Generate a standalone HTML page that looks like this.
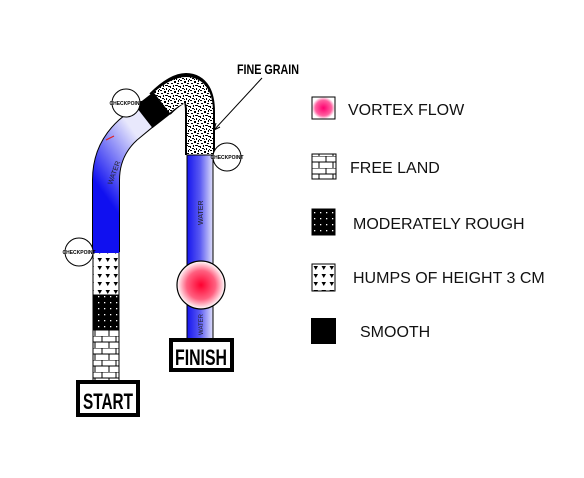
<!DOCTYPE html>
<html><head><meta charset="utf-8"><style>
html,body{margin:0;padding:0;background:#fff;}
svg{display:block;font-family:"Liberation Sans",sans-serif;}
</style></head><body>
<svg width="584" height="478" viewBox="0 0 584 478">
<defs>
<linearGradient id="wl" x1="0" y1="1" x2="0.4" y2="0"><stop offset="0.35" stop-color="#1010f0"/><stop offset="1" stop-color="#e8e8fc"/></linearGradient>
<linearGradient id="wr" x1="0" y1="0" x2="1" y2="0"><stop offset="0" stop-color="#1515ee"/><stop offset="0.5" stop-color="#5a5af2"/><stop offset="1" stop-color="#e0e0fa"/></linearGradient>
<radialGradient id="vx"><stop offset="0" stop-color="#ff0030"/><stop offset="0.6" stop-color="#ff6080"/><stop offset="1" stop-color="#fff"/></radialGradient>
<radialGradient id="vx2"><stop offset="0" stop-color="#ff0070"/><stop offset="0.7" stop-color="#ff60a0"/><stop offset="1" stop-color="#fff"/></radialGradient>
<pattern id="brick" width="14" height="12" patternUnits="userSpaceOnUse"><rect width="14" height="12" fill="#fff"/><path d="M0 0H14M0 6H14M4 0V6M11 6V12" stroke="#000" stroke-width="1"/></pattern>
<pattern id="rough" width="6" height="6" patternUnits="userSpaceOnUse"><rect width="6" height="6" fill="#000"/><rect x="2" y="2" width="1.3" height="1.3" fill="#fff"/></pattern>
<pattern id="humps" width="8" height="8" patternUnits="userSpaceOnUse"><rect width="8" height="8" fill="#fff"/><path d="M1.5 2L6 2L3.75 6Z" fill="#000"/></pattern>
<pattern id="grain" width="10" height="10" patternUnits="userSpaceOnUse"><rect width="10" height="10" fill="#fff"/><path d="M0 0h2v1H0zM4 1h2v2H4zM8 0h1v2H8zM1 3h2v1H1zM7 3h2v1H7zM3 5h1v2H3zM5 5h3v1H5zM0 6h1v2H0zM8 6h2v1H8zM2 8h2v1H2zM6 8h1v2H6zM9 9h1v1H9zM4 9h1v1H4z" fill="#000"/></pattern>
</defs>

<rect x="93" y="252" width="26" height="43" fill="url(#humps)" stroke="#000"/>
<rect x="93" y="295" width="26" height="35" fill="url(#rough)" stroke="#000"/>
<rect x="93" y="330" width="26" height="52" fill="url(#brick)" stroke="#000"/>

<path d="M106 252 L106 180 Q106 150 128 130 L145 116" fill="none" stroke="#000" stroke-width="28"/>
<path d="M106 253 L106 180 Q106 150 128 130 L146 115" fill="none" stroke="url(#wl)" stroke-width="26"/>
<text x="0" y="0" font-size="7" fill="#222" transform="translate(112,185) rotate(-70)">WATER</text>
<path d="M106 140 L114 136" stroke="#e02020" stroke-width="1.2"/>

<path d="M160 104 Q176 88 186 88 Q200 88 200 112 L200 155" fill="none" stroke="#000" stroke-width="30"/>
<path d="M160 104 Q176 90 186 90 Q200 90 200 112 L200 156" fill="none" stroke="url(#grain)" stroke-width="26"/>
<path d="M144 117 L162 103" fill="none" stroke="#000" stroke-width="28"/>

<rect x="187" y="155" width="26" height="185" fill="url(#wr)" stroke="#000"/>
<text font-size="7" fill="#222" transform="translate(203,225) rotate(-90)">WATER</text>
<text font-size="6" fill="#222" transform="translate(203,335) rotate(-90)">WATER</text>
<circle cx="201" cy="285" r="24" fill="url(#vx)" stroke="#000" stroke-width="1.2"/>

<g font-size="5" font-weight="bold" text-anchor="middle" fill="#000">
<circle cx="79" cy="252" r="14" fill="#fff" stroke="#000"/><text x="79" y="254">CHECKPOINT</text>
<circle cx="126" cy="103" r="14" fill="#fff" stroke="#000"/><text x="126" y="105">CHECKPOINT</text>
<circle cx="227" cy="157" r="14" fill="#fff" stroke="#000"/><text x="227" y="159">CHECKPOINT</text>
</g>

<text x="237" y="74" font-size="14" font-weight="bold" textLength="62" lengthAdjust="spacingAndGlyphs">FINE GRAIN</text>
<path d="M262 78 L214 130" stroke="#000" stroke-width="1"/>
<path d="M214 130 L216 123 M214 130 L220 127" stroke="#000" stroke-width="1"/>

<rect x="78" y="382" width="60" height="33" fill="#fff" stroke="#000" stroke-width="4"/>
<text x="108" y="409" font-size="22" font-weight="bold" text-anchor="middle" textLength="50" lengthAdjust="spacingAndGlyphs">START</text>
<rect x="171" y="340" width="61" height="30" fill="#fff" stroke="#000" stroke-width="4"/>
<text x="201" y="365" font-size="22" font-weight="bold" text-anchor="middle" textLength="52" lengthAdjust="spacingAndGlyphs">FINISH</text>

<g font-size="16" fill="#111">
<rect x="312" y="97" width="23" height="22" fill="url(#vx2)" stroke="#000"/>
<text x="348" y="115">VORTEX FLOW</text>
<rect x="312" y="154" width="24" height="25" fill="url(#brick)" stroke="#000"/>
<text x="350" y="173">FREE LAND</text>
<rect x="312" y="209" width="23" height="26" fill="url(#rough)" stroke="#000"/>
<text x="353" y="229">MODERATELY ROUGH</text>
<rect x="312" y="264" width="23" height="27" fill="url(#humps)" stroke="#000"/>
<text x="353" y="283">HUMPS OF HEIGHT 3 CM</text>
<rect x="311" y="318" width="25" height="26" fill="#000"/>
<text x="360" y="337">SMOOTH</text>
</g>
</svg>
</body></html>
